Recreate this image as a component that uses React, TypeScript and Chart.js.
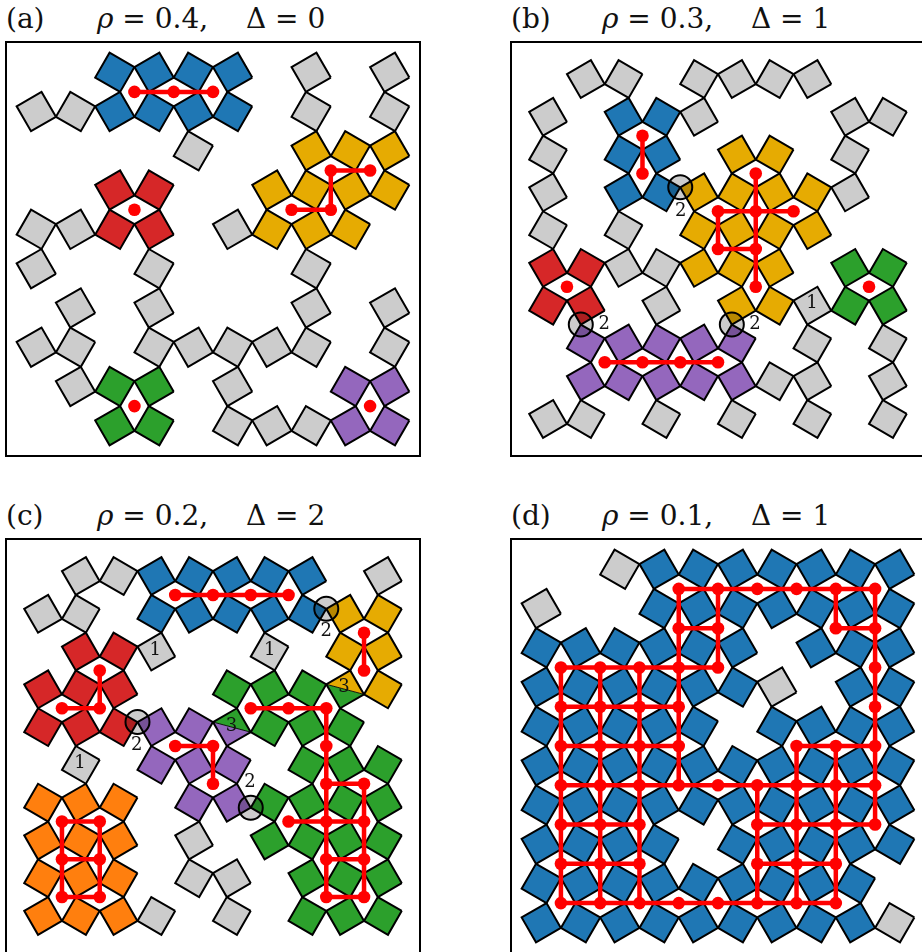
import React, { useEffect, useRef } from "react";
import { Chart, registerables } from "chart.js";

Chart.register(...registerables);

// ---------- data ----------
// lattice maps, row 0 at the top; '.' empty, 'g' gray, letters = cluster colour, 'x' = split cell
const gridA = [
  "..BBBB.g.g",
  "ggBBBB.g.g",
  "....g..YYY",
  "..RR..YYYY",
  "ggRR.gYYY.",
  "g..g...g..",
  ".g.g...g.g",
  "gg.ggggg.g",
  ".gGG.g..PP",
  "..GG.gggPP",
];
const gridB = [
  ".gg.gggg..",
  "g.BBg...gg",
  "g.BB.YY.g.",
  "g.BBYYYYg.",
  "g.g.YYYY..",
  "RRggYYY.GG",
  "RR.g.YYgGG",
  ".PPPPP.g.g",
  ".PPPPPgg.g",
  "gg.g.g.g.g",
];
const gridC = [
  ".ggBBBBB.g",
  "gg.BBBBBYY",
  ".RRg..g.YY",
  "RRR..GGGxY",
  "RRRPPxGGG.",
  ".g.PPP.GGG",
  "OOO.PPGGGG",
  "OOO.g.GGGG",
  "OOO.gg.GGG",
  "OOOg.g.GGG",
];
const gridD = [
  "..gBBBBBBB",
  "g..BBBBBBB",
  "BBBBBB.BBB",
  "BBBBBBg.BB",
  "BBBBB.BBBB",
  "BBBBBBBBBB",
  "BBBBBBBBBB",
  "BBBB.BBBBB",
  "BBBBBBBBB.",
  "BBBBBBBBBg",
];

// split cells: [col, row, upper colour, lower colour]
const splitC: [number, number, string, string][] = [
  [8, 3, "Y", "G"],
  [5, 4, "G", "P"],
];

type Pt = [number, number];
// red networks (hole centres)
const netA: Pt[][] = [
  [[2.5, 0.5], [3.5, 0.5], [4.5, 0.5]],
  [[6.5, 3.5], [7.5, 3.5], [7.5, 2.5], [8.5, 2.5]],
  [[2.5, 3.5]],
  [[2.5, 8.5]],
  [[8.5, 8.5]],
];
const netB: Pt[][] = [
  [[2.5, 1.5], [2.5, 2.5]],
  [[5.5, 2.5], [5.5, 3.5], [5.5, 4.5], [5.5, 5.5]],
  [[4.5, 3.5], [5.5, 3.5], [6.5, 3.5]],
  [[4.5, 3.5], [4.5, 4.5], [5.5, 4.5]],
  [[0.5, 5.5]],
  [[8.5, 5.5]],
  [[1.5, 7.5], [2.5, 7.5], [3.5, 7.5], [4.5, 7.5]],
];
const netC: Pt[][] = [
  [[3.5, 0.5], [4.5, 0.5], [5.5, 0.5], [6.5, 0.5]],
  [[8.5, 1.5], [8.5, 2.5]],
  [[1.5, 2.5], [1.5, 3.5], [0.5, 3.5]],
  [[3.5, 4.5], [4.5, 4.5], [4.5, 5.5]],
  [[5.5, 3.5], [6.5, 3.5], [7.5, 3.5], [7.5, 4.5], [7.5, 5.5], [7.5, 6.5], [7.5, 7.5], [7.5, 8.5]],
  [[7.5, 5.5], [8.5, 5.5], [8.5, 6.5], [8.5, 7.5], [8.5, 8.5]],
  [[6.5, 6.5], [7.5, 6.5], [8.5, 6.5]],
  [[7.5, 7.5], [8.5, 7.5]],
  [[7.5, 8.5], [8.5, 8.5]],
  [[0.5, 6.5], [1.5, 6.5], [1.5, 7.5], [1.5, 8.5], [0.5, 8.5], [0.5, 7.5], [0.5, 6.5]],
  [[0.5, 7.5], [1.5, 7.5]],
];
const netD: Pt[][] = [
  [[3.5, 0.5], [4.5, 0.5], [5.5, 0.5], [6.5, 0.5], [7.5, 0.5], [8.5, 0.5]],
  [[3.5, 1.5], [4.5, 1.5]],
  [[7.5, 1.5], [8.5, 1.5]],
  [[0.5, 2.5], [1.5, 2.5], [2.5, 2.5], [3.5, 2.5], [4.5, 2.5]],
  [[0.5, 3.5], [1.5, 3.5], [2.5, 3.5], [3.5, 3.5]],
  [[0.5, 4.5], [1.5, 4.5], [2.5, 4.5], [3.5, 4.5]],
  [[6.5, 4.5], [7.5, 4.5], [8.5, 4.5]],
  [[0.5, 5.5], [1.5, 5.5], [2.5, 5.5], [3.5, 5.5], [4.5, 5.5], [5.5, 5.5], [6.5, 5.5], [7.5, 5.5], [8.5, 5.5]],
  [[0.5, 6.5], [1.5, 6.5], [2.5, 6.5]],
  [[5.5, 6.5], [6.5, 6.5], [7.5, 6.5], [8.5, 6.5]],
  [[0.5, 7.5], [1.5, 7.5], [2.5, 7.5]],
  [[5.5, 7.5], [6.5, 7.5], [7.5, 7.5]],
  [[0.5, 8.5], [1.5, 8.5], [2.5, 8.5], [3.5, 8.5], [4.5, 8.5], [5.5, 8.5], [6.5, 8.5], [7.5, 8.5]],
  [[0.5, 2.5], [0.5, 3.5], [0.5, 4.5], [0.5, 5.5], [0.5, 6.5], [0.5, 7.5], [0.5, 8.5]],
  [[1.5, 2.5], [1.5, 3.5], [1.5, 4.5], [1.5, 5.5], [1.5, 6.5], [1.5, 7.5], [1.5, 8.5]],
  [[2.5, 2.5], [2.5, 3.5], [2.5, 4.5], [2.5, 5.5], [2.5, 6.5], [2.5, 7.5], [2.5, 8.5]],
  [[3.5, 0.5], [3.5, 1.5], [3.5, 2.5], [3.5, 3.5], [3.5, 4.5], [3.5, 5.5]],
  [[4.5, 0.5], [4.5, 1.5], [4.5, 2.5]],
  [[5.5, 5.5], [5.5, 6.5], [5.5, 7.5], [5.5, 8.5]],
  [[6.5, 4.5], [6.5, 5.5], [6.5, 6.5], [6.5, 7.5], [6.5, 8.5]],
  [[7.5, 0.5], [7.5, 1.5]],
  [[7.5, 4.5], [7.5, 5.5], [7.5, 6.5], [7.5, 7.5], [7.5, 8.5]],
  [[8.5, 0.5], [8.5, 1.5], [8.5, 2.5], [8.5, 3.5], [8.5, 4.5], [8.5, 5.5], [8.5, 6.5]],
];

// circled shared corners: [col, row, 'R' = right corner | 'D' = bottom corner]
const circlesB: [number, number, string][] = [[3, 3, "R"], [1, 6, "D"], [5, 6, "D"]];
const circlesC: [number, number, string][] = [[7, 1, "R"], [2, 4, "R"], [5, 6, "R"]];

// text labels: [x, y, text] in lattice units
const labelsB: [number, number, string][] = [
  [3.51, 3.51, "2"], [1.49, 6.49, "2"], [5.48, 6.49, "2"], [6.99, 5.95, "1"],
];
const labelsC: [number, number, string][] = [
  [7.5, 1.46, "2"], [2.48, 4.47, "2"], [5.48, 5.45, "2"],
  [7.97, 2.94, "3"], [4.99, 3.97, "3"],
  [2.97, 1.96, "1"], [6.0, 1.96, "1"], [0.98, 4.96, "1"],
];

const titles = [
  { tag: "(a)", rho: "0.4", delta: "0" },
  { tag: "(b)", rho: "0.3", delta: "1" },
  { tag: "(c)", rho: "0.2", delta: "2" },
  { tag: "(d)", rho: "0.1", delta: "1" },
];

// ---------- styling ----------
const COLORS: Record<string, string> = {
  B: "#1f77b4",
  Y: "#e6ab02",
  R: "#d62728",
  G: "#2ca02c",
  P: "#9467bd",
  O: "#ff7f0e",
  g: "#cccccc",
};
const RED = "#ff0000";
const TILT = 15;
const RAD = 0.5 / Math.cos((TILT * Math.PI) / 180);
const AX_MIN = -0.585;
const AX_MAX = 9.585;

function corner(i: number, j: number, k: number) {
  const base = (i + j) % 2 === 1 ? TILT : -TILT;
  const a = ((base + 90 * k) * Math.PI) / 180;
  return { x: i + RAD * Math.cos(a), y: j + RAD * Math.sin(a) };
}

function buildDatasets(grid: string[], split: [number, number, string, string][], net: Pt[][], circles: [number, number, string][]) {
  const ds: any[] = [];
  grid.forEach((row, j) => {
    row.split("").forEach((ch, i) => {
      if (!COLORS[ch]) return;
      ds.push({
        data: [0, 1, 2, 3, 0].map((k) => corner(i, j, k)),
        backgroundColor: COLORS[ch],
        borderColor: "#000",
        borderWidth: 2,
        fill: "shape",
        pointRadius: 0,
        order: 10,
      });
    });
  });
  for (const [i, j, up, lo] of split) {
    ds.push({
      data: [2, 3, 0, 2].map((k) => corner(i, j, k)),
      backgroundColor: COLORS[up],
      borderColor: "rgba(0,0,0,0)",
      fill: "shape",
      pointRadius: 0,
      order: 9,
    });
    ds.push({
      data: [0, 1, 2, 0].map((k) => corner(i, j, k)),
      backgroundColor: COLORS[lo],
      borderColor: "rgba(0,0,0,0)",
      fill: "shape",
      pointRadius: 0,
      order: 9,
    });
    ds.push({
      data: [0, 1, 2, 3, 0].map((k) => corner(i, j, k)),
      borderColor: "#000",
      borderWidth: 2,
      fill: false,
      pointRadius: 0,
      order: 8,
    });
    ds.push({
      data: [2, 0].map((k) => corner(i, j, k)),
      borderColor: "#000",
      borderWidth: 0.9,
      fill: false,
      pointRadius: 0,
      order: 8,
    });
  }
  const nodes = new Map<string, { x: number; y: number }>();
  for (const poly of net) {
    ds.push({
      data: poly.map(([x, y]) => ({ x, y })),
      borderColor: RED,
      borderWidth: 4.5,
      borderJoinStyle: "round",
      borderCapStyle: "round",
      fill: false,
      pointRadius: 0,
      order: 5,
    });
    for (const [x, y] of poly) nodes.set(x + "," + y, { x, y });
  }
  ds.push({
    data: Array.from(nodes.values()),
    showLine: false,
    pointRadius: 6.3,
    pointBackgroundColor: RED,
    pointBorderWidth: 0,
    order: 4,
  });
  if (circles.length) {
    ds.push({
      data: circles.map(([i, j, d]) => corner(i, j, d === "R" ? 0 : 1)),
      showLine: false,
      pointRadius: 12,
      pointBackgroundColor: "rgba(0,0,0,0.2)",
      pointBorderColor: "#000",
      pointBorderWidth: 2,
      order: 3,
    });
  }
  return ds;
}

type PanelCfg = {
  left: number;
  top: number;
  grid: string[];
  split: [number, number, string, string][];
  net: Pt[][];
  circles: [number, number, string][];
  labels: [number, number, string][];
  title: { tag: string; rho: string; delta: string };
};

const panels: PanelCfg[] = [
  { left: 5, top: 41, grid: gridA, split: [], net: netA, circles: [], labels: [], title: titles[0] },
  { left: 510, top: 41, grid: gridB, split: [], net: netB, circles: circlesB, labels: labelsB, title: titles[1] },
  { left: 5, top: 538, grid: gridC, split: splitC, net: netC, circles: circlesC, labels: labelsC, title: titles[2] },
  { left: 510, top: 538, grid: gridD, split: [], net: netD, circles: [], labels: [], title: titles[3] },
];

const SIZE = 412;

function Panel({ cfg }: { cfg: PanelCfg }) {
  const ref = useRef<HTMLCanvasElement>(null);
  useEffect(() => {
    if (!ref.current) return;
    const labels = cfg.labels;
    const labelPlugin = {
      id: "cellLabels",
      afterDatasetsDraw(chart: any) {
        const { ctx } = chart;
        const xs = chart.scales.x;
        const ys = chart.scales.y;
        ctx.save();
        ctx.font = '18px "DejaVu Serif"';
        ctx.fillStyle = "#111";
        ctx.textAlign = "center";
        ctx.textBaseline = "middle";
        for (const [x, y, t] of labels) {
          ctx.fillText(t, xs.getPixelForValue(x), ys.getPixelForValue(y));
        }
        ctx.restore();
      },
    };
    const chart = new Chart(ref.current, {
      type: "line",
      data: { datasets: buildDatasets(cfg.grid, cfg.split, cfg.net, cfg.circles) },
      options: {
        animation: false,
        responsive: false,
        events: [],
        layout: { padding: 0 },
        plugins: { legend: { display: false }, tooltip: { enabled: false } },
        elements: { line: { tension: 0 } },
        scales: {
          x: { type: "linear", min: AX_MIN, max: AX_MAX, display: false },
          y: { type: "linear", min: AX_MIN, max: AX_MAX, reverse: true, display: false },
        },
      },
      plugins: [labelPlugin],
    } as any);
    return () => chart.destroy();
  }, [cfg]);
  const titleTop = cfg.top - 36;
  const tl = cfg.left + 1;
  const font = '28px "DejaVu Serif", serif';
  const base = { position: "absolute" as const, top: titleTop, font, lineHeight: "28px", whiteSpace: "pre" as const, color: "#111" };
  return (
    <>
      <div style={{ ...base, left: tl }}>{cfg.title.tag}</div>
      <div style={{ ...base, left: tl + 91 }}>
        <i>ρ</i>{" = " + cfg.title.rho + ","}
      </div>
      <div style={{ ...base, left: tl + 240 }}>{"Δ = " + cfg.title.delta}</div>
      <div
        style={{
          position: "absolute",
          left: cfg.left,
          top: cfg.top,
          width: SIZE,
          height: SIZE,
          border: "2px solid #000",
          background: "#fff",
        }}
      >
        <canvas ref={ref} width={SIZE} height={SIZE} style={{ display: "block" }} />
      </div>
    </>
  );
}

export default function App() {
  return (
    <div
      style={{
        position: "absolute",
        left: 0,
        top: 0,
        width: 922,
        height: 952,
        overflow: "hidden",
        background: "#fff",
      }}
    >
      {panels.map((p, idx) => (
        <Panel key={idx} cfg={p} />
      ))}
    </div>
  );
}
